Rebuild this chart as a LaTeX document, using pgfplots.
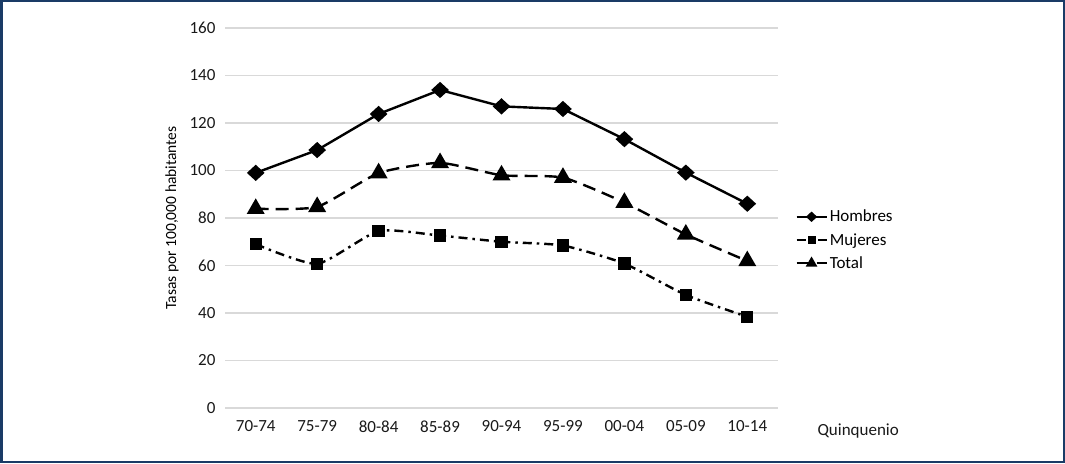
\documentclass[border=0pt]{standalone}
\usepackage{fontspec}
\setmainfont{Carlito}
\usepackage{pgfplots}
\pgfplotsset{compat=1.18}

\definecolor{framecol}{RGB}{26,59,102}
\definecolor{gridcol}{RGB}{217,217,217}

\begin{document}
\begin{tikzpicture}
\useasboundingbox (0pt,0pt) rectangle (1065pt,463pt);
\draw[framecol, line width=2.5pt] (1.25pt,1.25pt) rectangle (1063.75pt,461.75pt);

\begin{axis}[
    at={(225pt,55pt)}, anchor=south west,
    scale only axis,
    width=553pt, height=380pt,
    xmin=-0.5, xmax=8.5,
    ymin=0, ymax=160,
    xtick={0,...,8},
    xticklabels={70-74,75-79,80-84,85-89,90-94,95-99,00-04,05-09,10-14},
    ytick={0,20,...,160},
    axis line style={draw=none},
    major tick length=0pt,
    ymajorgrids=true,
    grid style={gridcol, line width=1.5pt},
    /pgf/number format/assume math mode=true,
    tick label style={font=\fontsize{17}{19}\selectfont, text=black!90},
    yticklabel style={xshift=-6pt},
    xticklabel style={yshift=-9pt},
    ylabel={Tasas por 100,000 habitantes},
    ylabel style={at={(axis description cs:-0.096,0.5)}, anchor=center,
        font=\fontsize{15.5}{17}\selectfont},
    xlabel={Quinquenio},
    xlabel style={at={(axis description cs:1.145,-0.0605)}, anchor=center,
        font=\fontsize{17}{19}\selectfont, text=black!90},
    legend style={at={(axis description cs:1.031,0.442)}, anchor=west,
        draw=none, fill=none, font=\fontsize{17}{19}\selectfont,
        row sep=6pt, inner sep=0pt,
        nodes={inner xsep=2pt}},
    legend cell align=left,
    legend image code/.code={\draw[mark repeat=2,mark phase=2,#1,
        every mark/.append style={scale=0.55}]
        plot coordinates {(0pt,0pt) (15pt,0pt) (30pt,0pt)};},
]

\addplot[black, line width=2.4pt, mark=diamond*,
    mark size=6.5pt, mark options={solid, xscale=1.45}]
coordinates {
    (0,99) (1,108.6) (2,123.8) (3,133.9) (4,127) (5,125.9) (6,113.2) (7,99.1) (8,86)
};
\addlegendentry{Hombres}

\addplot[black, line width=2.4pt, mark=square*, mark size=5pt,
    mark options={solid}, smooth, tension=0.35,
    dash pattern=on 9pt off 5pt on 2.5pt off 5pt]
coordinates {
    (0,69) (1,60.7) (2,74.5) (3,72.6) (4,70) (5,68.4) (6,60.8) (7,47.6) (8,38.4)
};
\addlegendentry{Mujeres}

\addplot[black, line width=2.4pt, mark=triangle*, mark size=8pt,
    mark options={solid}, smooth, tension=0.35,
    dash pattern=on 13pt off 7pt]
coordinates {
    (0,83.9) (1,84.7) (2,98.9) (3,103.2) (4,98) (5,97) (6,86.5) (7,73.1) (8,61.9)
};
\addlegendentry{Total}

\end{axis}
\end{tikzpicture}
\end{document}
